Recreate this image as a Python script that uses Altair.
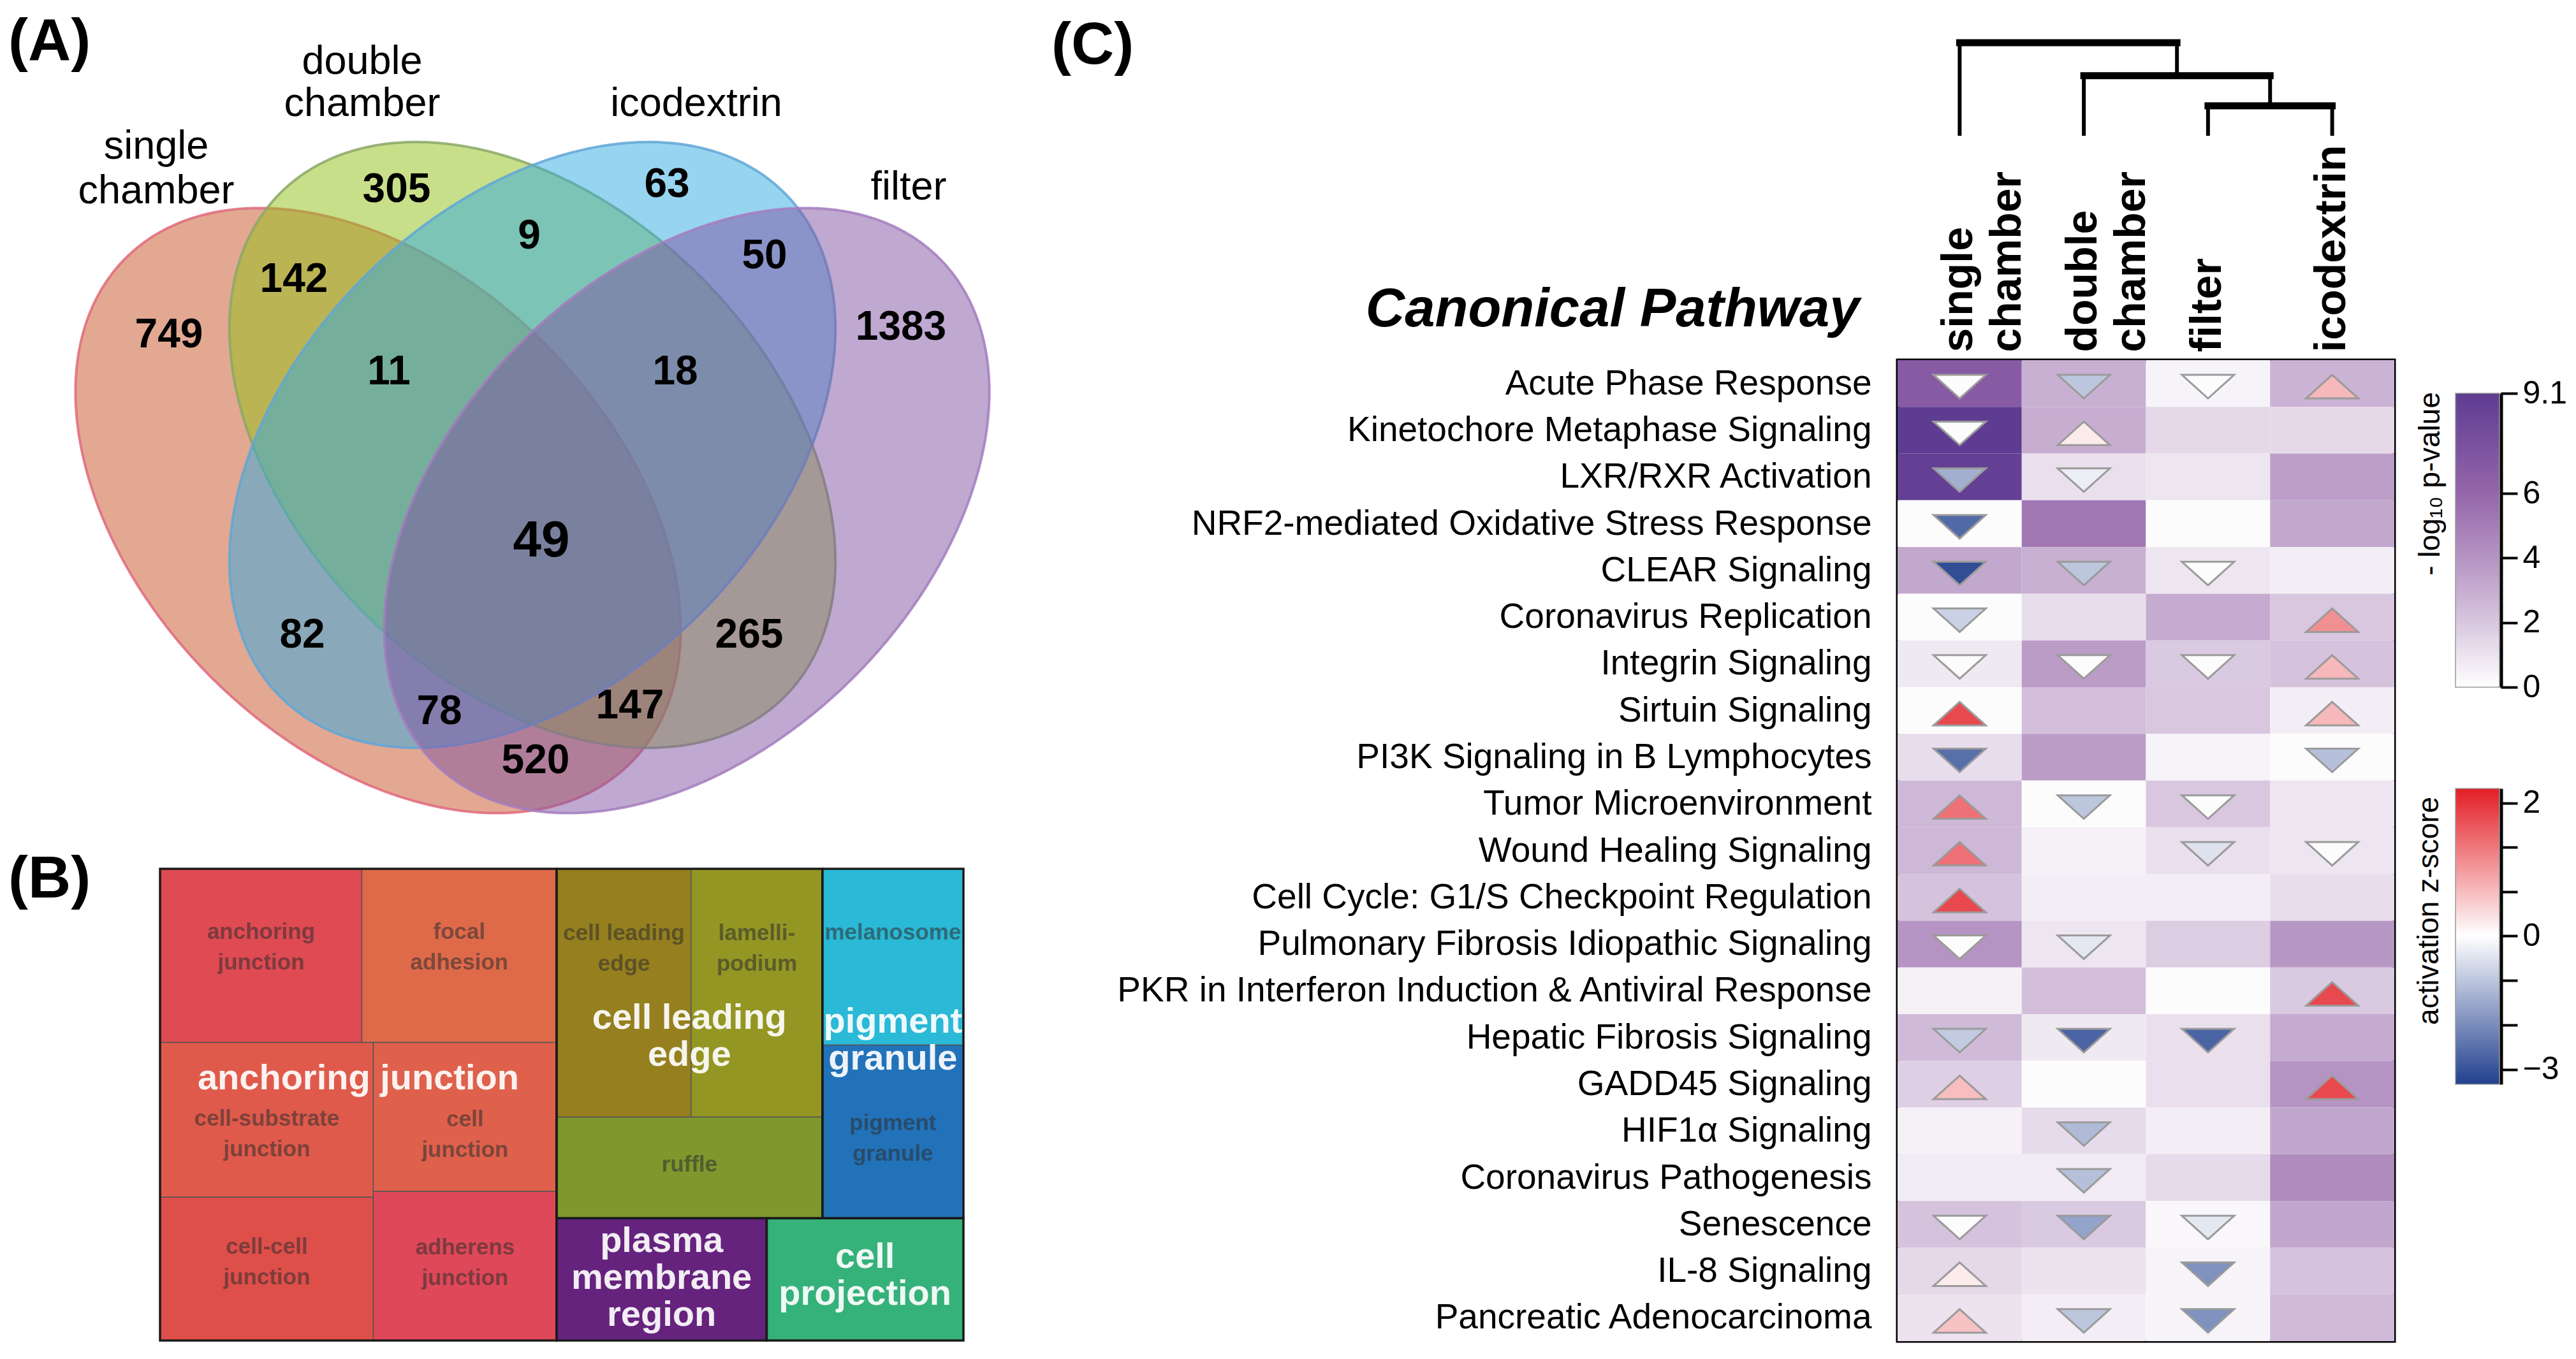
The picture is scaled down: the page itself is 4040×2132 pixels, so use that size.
import numpy as np
import pandas as pd
import altair as alt

FONT = "Liberation Sans"

# ======================= DATA =======================
# (A) Venn diagram of differentially detected proteins
venn_sets = ["single chamber", "double chamber", "icodextrin", "filter"]
venn_set_text = ["single\nchamber", "double\nchamber", "icodextrin", "filter"]
venn_regions = ["S", "D", "I", "F", "SD", "DI", "IF", "SDI", "DIF", "SDIF",
                "SI", "DF", "SIF", "SDF", "SF"]
venn_counts = [749, 305, 63, 1383, 142, 9, 50, 11, 18, 49, 82, 265, 78, 147, 520]

# (B) treemap of enriched cellular components
tm_terms = ["anchoring junction", "focal adhesion", "cell-substrate junction",
            "cell-cell junction", "cell junction", "adherens junction",
            "cell leading edge", "lamellipodium", "ruffle", "melanosome",
            "pigment granule", "plasma membrane region", "cell projection"]
tm_text = ["anchoring\njunction", "focal\nadhesion", "cell-substrate\njunction",
           "cell-cell\njunction", "cell\njunction", "adherens\njunction",
           "cell leading\nedge", "lamelli-\npodium", "ruffle", "melanosome",
           "pigment\ngranule", "", ""]
tm_group = ["anchoring junction"] * 6 + ["cell leading edge"] * 3 + \
           ["pigment granule"] * 2 + ["plasma membrane region", "cell projection"]
tm_size = [86, 83, 81, 75, 67, 67, 82, 80, 66, 61, 60, 63, 59]
tm_group_names = ["anchoring junction", "cell leading edge", "pigment granule",
                  "plasma membrane region", "cell projection"]
tm_group_text = ["anchoring junction", "cell leading\nedge", "pigment\ngranule",
                 "plasma\nmembrane\nregion", "cell\nprojection"]

# (C) canonical pathways heatmap
pathways = ["Acute Phase Response", "Kinetochore Metaphase Signaling",
            "LXR/RXR Activation", "NRF2-mediated Oxidative Stress Response",
            "CLEAR Signaling", "Coronavirus Replication", "Integrin Signaling",
            "Sirtuin Signaling", "PI3K Signaling in B Lymphocytes",
            "Tumor Microenvironment", "Wound Healing Signaling",
            "Cell Cycle: G1/S Checkpoint Regulation",
            "Pulmonary Fibrosis Idiopathic Signaling",
            "PKR in Interferon Induction & Antiviral Response",
            "Hepatic Fibrosis Signaling", "GADD45 Signaling", "HIF1α Signaling",
            "Coronavirus Pathogenesis", "Senescence", "IL-8 Signaling",
            "Pancreatic Adenocarcinoma"]
conditions = ["single chamber", "double chamber", "filter", "icodextrin"]
neglogp_single = [6.8, 9.1, 8.8, 0.1, 3.2, 0.1, 0.8, 0.1, 1.2, 2.6, 2.6, 2.2, 4.0,
                  0.5, 2.5, 1.7, 0.5, 0.7, 2.2, 1.4, 1.0]
neglogp_double = [2.9, 3.0, 1.1, 5.2, 2.9, 1.2, 3.7, 2.3, 3.7, 0.1, 0.5, 0.6, 0.9,
                  2.3, 0.8, 0.1, 1.3, 0.7, 1.9, 1.0, 0.6]
neglogp_filter = [0.4, 1.4, 0.9, 0.1, 0.9, 3.1, 1.9, 2.0, 0.4, 2.0, 1.1, 0.6, 1.8,
                  0.1, 1.1, 1.1, 0.6, 1.3, 0.3, 0.4, 0.4]
neglogp_icodextrin = [2.8, 1.4, 3.6, 3.2, 0.6, 2.0, 2.2, 0.6, 0.1, 0.9, 0.9, 1.2, 3.9,
                      1.9, 3.1, 4.0, 3.3, 4.4, 3.3, 2.2, 2.5]
z_single = [-0.05, -0.05, -1.4, -2.6, -3.1, -0.8, -0.05, 1.8, -2.5, 1.4, 1.4, 1.8,
            -0.05, None, -0.9, 0.65, None, None, -0.05, 0.2, 0.6]
z_double = [-1.0, 0.2, -0.3, None, -1.0, None, -0.05, None, None, -1.0, None, None,
            -0.4, None, -2.7, None, -1.2, -1.1, -1.6, None, -1.0]
z_filter = [-0.05, None, None, None, -0.05, None, -0.05, None, None, -0.05, -0.5,
            None, None, None, -2.7, None, None, None, -0.4, -1.9, -1.9]
z_icodextrin = [0.7, None, None, None, None, 1.1, 0.7, 0.7, -1.1, None, -0.05, None,
                None, 1.8, None, 1.8, None, None, None, None, None]
dendro_merges = [("filter", "icodextrin", 1.0),
                 ("double chamber", "m1", 2.0),
                 ("single chamber", "m2", 3.1)]
p_ticks = [0, 2, 4, 6, 9.1]
z_domain = [-3.33, 0, 2.22]
z_ticks = [2, 4 / 3, 2 / 3, 0, -1, -2, -3]

# ======================= LAYOUT / STYLE =======================
OX, OY = 2976, 565          # page position of heatmap plot area
HM_W, HM_H = 779, 1539
def PX(a, b):
    return [a - OX, b - OX]
def PY(a, b):
    return [a - OY, b - OY]

venn_fill = ["#c75125", "#91bf15", "#2fa9e1", "#7f53a1"]
venn_edge = ["#e06a7c", "#8aa866", "#62a6d6", "#a57cc0"]
venn_geom = [(593, 801, 560, 370, 45), (835, 698, 559, 373, 45),
             (835, 698, 559, 373, -45), (1077, 801, 560, 370, -45)]
venn_set_pos = [(245, 249, 70), (568, 116, 66), (1092, 182, 66), (1425, 313, 66)]
venn_region_pos = {"S": (265, 522), "D": (622, 294), "I": (1046, 286),
                   "F": (1413, 510), "SD": (461, 435), "DI": (830, 367),
                   "IF": (1199, 398), "SDI": (610, 580), "DIF": (1059, 580),
                   "SDIF": (849, 844), "SI": (474, 993), "DF": (1175, 993),
                   "SIF": (689, 1113), "SDF": (988, 1104), "SF": (840, 1190)}

TM_PX_H = 2103 - 1363
tm_colors = ["#e04a52", "#df6a4a", "#df5a4b", "#df4f4a", "#df614b", "#df4858",
             "#967f1e", "#949624", "#7f982e", "#2ab9d6", "#2272b9", "#66237e",
             "#35b17a"]
tm_label_fy = [0.45, 0.45, 0.59, 0.455, 0.62, 0.48, 0.32, 0.32, 0.47, 0.36, 0.54,
               0.5, 0.5]
tm_group_fy = [0.445, 0.48, 0.49, 0.49, 0.47]
SUB_LH, BIG_LH, BIG_FS = 48, 58, 56
tm_tree = ("h", [("v", [("h", [0, 1]), ("h", [("v", [2, 3]), ("v", [4, 5])])]),
                 ("v", [("h", [("v", [("h", [6, 7]), 8]), ("v", [9, 10])]),
                        ("h", [11, 12])])])

P_COLORS = ["#ffffff", "#d8c7df", "#b594c3", "#9566aa", "#5e3c92"]
Z_COLORS = ["#21408e", "#ffffff", "#e31e25"]

# ======================= (A) VENN =======================
vx = alt.Scale(domain=[0, 1600], range=PX(0, 1600), nice=False, zero=False)
vy = alt.Scale(domain=[0, 1300], range=PY(0, 1300), nice=False, zero=False)


def ellipse_band(cx, cy, a, b, ang, n=361):
    phi = np.deg2rad(ang)
    c, s = np.cos(phi), np.sin(phi)
    half_w = np.sqrt(a * a * c * c + b * b * s * s)
    X = half_w * np.cos(np.linspace(0, np.pi, n))
    A = s * s / (a * a) + c * c / (b * b)
    B = 2 * X * c * s * (1 / (a * a) - 1 / (b * b))
    C = X * X * (c * c / (a * a) + s * s / (b * b)) - 1
    d = np.sqrt(np.clip(B * B - 4 * A * C, 0, None))
    return cx + X, cy + (-B - d) / (2 * A), cy + (-B + d) / (2 * A)


venn_layers = []
for i, name in enumerate(venn_sets):
    ex, ey1, ey2 = ellipse_band(*venn_geom[i])
    df = pd.DataFrame({"x": ex, "y1": ey1, "y2": ey2, "set": name})
    venn_layers.append(
        alt.Chart(df).mark_area(fill=venn_fill[i], fillOpacity=0.5,
                                stroke=venn_edge[i], strokeWidth=4,
                                strokeOpacity=0.85)
        .encode(x=alt.X("x:Q", scale=vx, axis=None),
                y=alt.Y("y1:Q", scale=vy, axis=None, stack=None),
                y2="y2:Q"))

set_df = pd.DataFrame({"label": venn_set_text,
                       "x": [p[0] for p in venn_set_pos],
                       "y": [p[1] for p in venn_set_pos]})
set_lh = [p[2] for p in venn_set_pos]
for i in range(4):
    venn_layers.append(
        alt.Chart(set_df.iloc[[i]]).mark_text(
            font=FONT, fontSize=63, align="center", baseline="alphabetic",
            lineBreak="\n", lineHeight=set_lh[i], color="black")
        .encode(x=alt.X("x:Q", scale=vx, axis=None),
                y=alt.Y("y:Q", scale=vy, axis=None), text="label:N"))

cnt_fs = [80 if r == "SDIF" else 64 for r in venn_regions]
cnt_df = pd.DataFrame({
    "region": venn_regions, "count": [str(c) for c in venn_counts],
    "x": [venn_region_pos[r][0] for r in venn_regions],
    "y": [venn_region_pos[r][1] + 0.36 * f for r, f in zip(venn_regions, cnt_fs)],
    "fs": cnt_fs})
venn_layers.append(
    alt.Chart(cnt_df).mark_text(font=FONT, fontWeight="bold", align="center",
                                baseline="alphabetic", color="black")
    .encode(x=alt.X("x:Q", scale=vx, axis=None),
            y=alt.Y("y:Q", scale=vy, axis=None),
            text="count:N", size=alt.Size("fs:Q", scale=None, legend=None)))
venn = alt.layer(*venn_layers)

# ======================= (B) TREEMAP =======================


def node_size(n):
    if isinstance(n, int):
        return tm_size[n]
    return sum(node_size(k) for k in n[1])


def layout(n, x0, y0, x1, y1, out):
    if isinstance(n, int):
        out[n] = (x0, y0, x1, y1)
        return
    d, kids = n
    tot, acc = node_size(n), 0
    for k in kids:
        f0 = acc / tot
        acc += node_size(k)
        f1 = acc / tot
        if d == "h":
            layout(k, x0 + (x1 - x0) * f0, y0, x0 + (x1 - x0) * f1, y1, out)
        else:
            layout(k, x0, y0 + (y1 - y0) * f0, x1, y0 + (y1 - y0) * f1, out)


def first_line_shift(texts, lh):
    # vertical offset (treemap units) so a multi-line block is centred
    return np.array([(t.count("\n")) * lh / 2 / TM_PX_H for t in texts])


rects = {}
layout(tm_tree, 0.0, 0.0, 1.0, 1.0, rects)
tm_df = pd.DataFrame({
    "term": tm_terms, "text": tm_text, "group": tm_group, "size": tm_size,
    "x0": [rects[i][0] for i in range(13)], "y0": [rects[i][1] for i in range(13)],
    "x1": [rects[i][2] for i in range(13)], "y1": [rects[i][3] for i in range(13)]})
tm_df["lx"] = (tm_df.x0 + tm_df.x1) / 2
tm_df["ly"] = tm_df.y0 + (tm_df.y1 - tm_df.y0) * np.array(tm_label_fy) \
    - first_line_shift(tm_text, SUB_LH)
grp = tm_df.groupby("group").agg(x0=("x0", "min"), y0=("y0", "min"),
                                 x1=("x1", "max"), y1=("y1", "max")).reindex(tm_group_names)
grp = grp.reset_index()
grp["text"] = tm_group_text
grp["lx"] = (grp.x0 + grp.x1) / 2
grp["ly"] = grp.y0 + (grp.y1 - grp.y0) * np.array(tm_group_fy) \
    - first_line_shift(tm_group_text, BIG_LH)

tx = alt.Scale(domain=[0, 1], range=PX(251, 1511), nice=False, zero=False)
ty = alt.Scale(domain=[0, 1], range=PY(1363, 2103), nice=False, zero=False)

tm_cells = alt.Chart(tm_df).mark_rect(stroke="#555555", strokeWidth=1.5).encode(
    x=alt.X("x0:Q", scale=tx, axis=None), x2="x1:Q",
    y=alt.Y("y0:Q", scale=ty, axis=None), y2="y1:Q",
    fill=alt.Fill("term:N", scale=alt.Scale(domain=tm_terms, range=tm_colors),
                  legend=None))
tm_groups = alt.Chart(grp).mark_rect(fillOpacity=0, stroke="#1a1a1a",
                                     strokeWidth=3.5).encode(
    x=alt.X("x0:Q", scale=tx, axis=None), x2="x1:Q",
    y=alt.Y("y0:Q", scale=ty, axis=None), y2="y1:Q")
tm_sub = alt.Chart(tm_df[tm_df.text != ""]).mark_text(
    font=FONT, fontSize=35, fontWeight="bold", lineBreak="\n", lineHeight=SUB_LH,
    align="center", baseline="middle", color="#2e2e2e", opacity=0.55).encode(
    x=alt.X("lx:Q", scale=tx, axis=None), y=alt.Y("ly:Q", scale=ty, axis=None),
    text="text:N")
tm_big = alt.Chart(grp).mark_text(
    font=FONT, fontSize=BIG_FS, fontWeight="bold", lineBreak="\n",
    lineHeight=BIG_LH, align="center", baseline="middle", color="#ffffff",
    opacity=0.92).encode(
    x=alt.X("lx:Q", scale=tx, axis=None), y=alt.Y("ly:Q", scale=ty, axis=None),
    text="text:N")
treemap = alt.layer(tm_cells, tm_groups, tm_sub, tm_big)

# ======================= (C) HEATMAP =======================
p_cols = [neglogp_single, neglogp_double, neglogp_filter, neglogp_icodextrin]
z_cols = [z_single, z_double, z_filter, z_icodextrin]
rows = []
for ci, cond in enumerate(conditions):
    for ri, pw in enumerate(pathways):
        z = z_cols[ci][ri]
        rows.append({"pathway": pw, "condition": cond, "p": p_cols[ci][ri],
                     "z": np.nan if z is None else z,
                     "dir": None if z is None else ("up" if z > 0 else "down")})
hm = pd.DataFrame(rows)
hm_z = hm.dropna(subset=["z"])

X_ENC = alt.X("condition:N", sort=conditions, title=None,
              scale=alt.Scale(paddingInner=0, paddingOuter=0),
              axis=alt.Axis(orient="top", labelAngle=270, labelAlign="left",
                            labelBaseline="middle",
                            labelExpr="split(datum.label, ' ')",
                            labelFont=FONT, labelFontSize=68,
                            labelFontWeight="bold", labelLineHeight=76,
                            labelPadding=13, labelLimit=2000, ticks=False,
                            domain=False, labelColor="black"))
Y_ENC = alt.Y("pathway:N", sort=pathways, title="Canonical Pathway",
              scale=alt.Scale(paddingInner=0, paddingOuter=0),
              axis=alt.Axis(orient="left", labelFont=FONT, labelFontSize=55,
                            labelPadding=41, labelLimit=2000, ticks=False,
                            domain=False, labelColor="black",
                            titleAngle=0, titleAlign="right",
                            titleBaseline="alphabetic", titleX=-60, titleY=-54,
                            titleFont=FONT, titleFontSize=85,
                            titleFontWeight="bold", titleFontStyle="italic",
                            titleColor="black"))

hm_rect = alt.Chart(hm).mark_rect().encode(
    x=X_ENC, y=Y_ENC,
    fill=alt.Fill("p:Q", scale=alt.Scale(domain=p_ticks, range=P_COLORS,
                                         interpolate="rgb", nice=False, zero=False),
                  legend=None))
TRI_DOWN = "M -1 -0.33 L 1 -0.33 L 0 0.57 Z"
TRI_UP = "M 0 -0.33 L 1 0.57 L -1 0.57 Z"
hm_tri = alt.Chart(hm_z).mark_point(filled=True, size=6724, stroke="#9b9b9b",
                                    strokeWidth=3, opacity=1,
                                    fillOpacity=1).encode(
    x=X_ENC, y=Y_ENC,
    fill=alt.Fill("z:Q", scale=alt.Scale(domain=z_domain, range=Z_COLORS,
                                         interpolate="rgb", nice=False, zero=False),
                  legend=None),
    shape=alt.Shape("dir:N", scale=alt.Scale(domain=["up", "down"],
                                             range=[TRI_UP, TRI_DOWN]),
                    legend=None))
heat = alt.layer(hm_rect, hm_tri).resolve_scale(fill="independent")

# dendrogram
pos = {c: i + 0.5 for i, c in enumerate(conditions)}
hgt = {c: 0.0 for c in conditions}
hseg, vseg = [], []
for k, (a, b, h) in enumerate(dendro_merges):
    for ch in (a, b):
        vseg.append({"x": pos[ch], "y": hgt[ch], "y2": h})
    hseg.append({"x": pos[a], "x2": pos[b], "y": h})
    pos["m%d" % (k + 1)] = (pos[a] + pos[b]) / 2
    hgt["m%d" % (k + 1)] = h
dx = alt.Scale(domain=[0, 4], range=[0, HM_W], nice=False, zero=False)
dy = alt.Scale(domain=[0, 3.1], range=PY(213, 67), nice=False, zero=False)
dendro_h = alt.Chart(pd.DataFrame(hseg)).mark_rule(
    color="black", strokeWidth=11, strokeCap="square").encode(
    x=alt.X("x:Q", scale=dx, axis=None), x2="x2:Q",
    y=alt.Y("y:Q", scale=dy, axis=None))
dendro_v = alt.Chart(pd.DataFrame(vseg)).mark_rule(
    color="black", strokeWidth=6).encode(
    x=alt.X("x:Q", scale=dx, axis=None),
    y=alt.Y("y:Q", scale=dy, axis=None), y2="y2:Q")
dendro = alt.layer(dendro_h, dendro_v)

# colour bars
BAR_X = PX(3851, 3920)
p_grad = {"gradient": "linear", "x1": 0, "x2": 0, "y1": 1, "y2": 0,
          "stops": [{"offset": v / p_ticks[-1], "color": c}
                    for v, c in zip(p_ticks, P_COLORS)]}
z_grad = {"gradient": "linear", "x1": 0, "x2": 0, "y1": 1, "y2": 0,
          "stops": [{"offset": 0, "color": Z_COLORS[0]},
                    {"offset": 233 / 464, "color": Z_COLORS[1]},
                    {"offset": 1, "color": Z_COLORS[2]}]}
AX_OFF = 3922 - OX - HM_W
p_axis = alt.Axis(orient="right", offset=AX_OFF, values=p_ticks,
                  labelExpr="datum.value == 9.1 ? '9.1' : toString(datum.value)",
                  labelFont=FONT, labelFontSize=50, labelColor="black",
                  labelPadding=8, tickSize=26, tickWidth=4, tickColor="black",
                  domainColor="black", domainWidth=6, grid=False, title=None)
z_axis = alt.Axis(orient="right", offset=AX_OFF, values=z_ticks,
                  labelExpr="datum.value == 2 ? '2' : datum.value == 0 ? '0' : "
                            "datum.value == -3 ? '\u22123' : ''",
                  labelFont=FONT, labelFontSize=50, labelColor="black",
                  labelPadding=8, tickSize=26, tickWidth=4, tickColor="black",
                  domainColor="black", domainWidth=6, grid=False, title=None)
p_bar = alt.Chart(pd.DataFrame({"lo": [p_ticks[0]], "hi": [p_ticks[-1]]})).mark_rect(
    fill=p_grad, stroke="#9a9a9a", strokeWidth=1.5).encode(
    x=alt.value(BAR_X[0]), x2=alt.value(BAR_X[1]),
    y=alt.Y("hi:Q", scale=alt.Scale(domain=[p_ticks[0], p_ticks[-1]],
                                    range=PY(1078, 617), nice=False, zero=False),
            axis=p_axis), y2="lo:Q")
z_bar = alt.Chart(pd.DataFrame({"lo": [z_domain[0]], "hi": [z_domain[-1]]})).mark_rect(
    fill=z_grad, stroke="#9a9a9a", strokeWidth=1.5).encode(
    x=alt.value(BAR_X[0]), x2=alt.value(BAR_X[1]),
    y=alt.Y("hi:Q", scale=alt.Scale(domain=z_domain,
                                    range=[1701 - OY, 1468 - OY, 1237 - OY],
                                    nice=False, zero=False),
            axis=z_axis), y2="lo:Q")

# free-standing text (panel letters and colour-bar titles)
notes = pd.DataFrame({
    "t": ["(A)", "(B)", "(C)", "- log\u2081\u2080 p-value", "activation z-score"],
    "x": [13 - OX, 13 - OX, 1649 - OX, 3812 - OX, 3810 - OX],
    "y": [94 - OY, 1408 - OY, 100 - OY, 615 - OY, 1250 - OY]})
letters = alt.Chart(notes.iloc[:3]).mark_text(
    font=FONT, fontSize=93, fontWeight="bold", align="left",
    baseline="alphabetic", color="black").encode(
    x=alt.X("x:Q", scale=None, axis=None), y=alt.Y("y:Q", scale=None, axis=None),
    text="t:N")
bar_titles = alt.Chart(notes.iloc[3:]).mark_text(
    font=FONT, fontSize=46, angle=270, align="right", baseline="middle",
    color="black").encode(
    x=alt.X("x:Q", scale=None, axis=None), y=alt.Y("y:Q", scale=None, axis=None),
    text="t:N")

chart = alt.layer(heat, dendro, p_bar, z_bar, venn, treemap, letters, bar_titles).resolve_scale(
    x="independent", y="independent", fill="independent", shape="independent",
    size="independent").resolve_axis(x="independent", y="independent").properties(
    width=HM_W, height=HM_H,
    autosize=alt.AutoSizeParams(type="none"),
    padding={"left": OX - 8, "top": OY - 8,
             "right": 4024 - (OX - 8) - HM_W, "bottom": 2116 - (OY - 8) - HM_H},
).configure(font=FONT).configure_view(stroke="black", strokeWidth=5).configure_axis(grid=False)

chart.save("out.html", embed_options={"renderer": "svg", "actions": False})
